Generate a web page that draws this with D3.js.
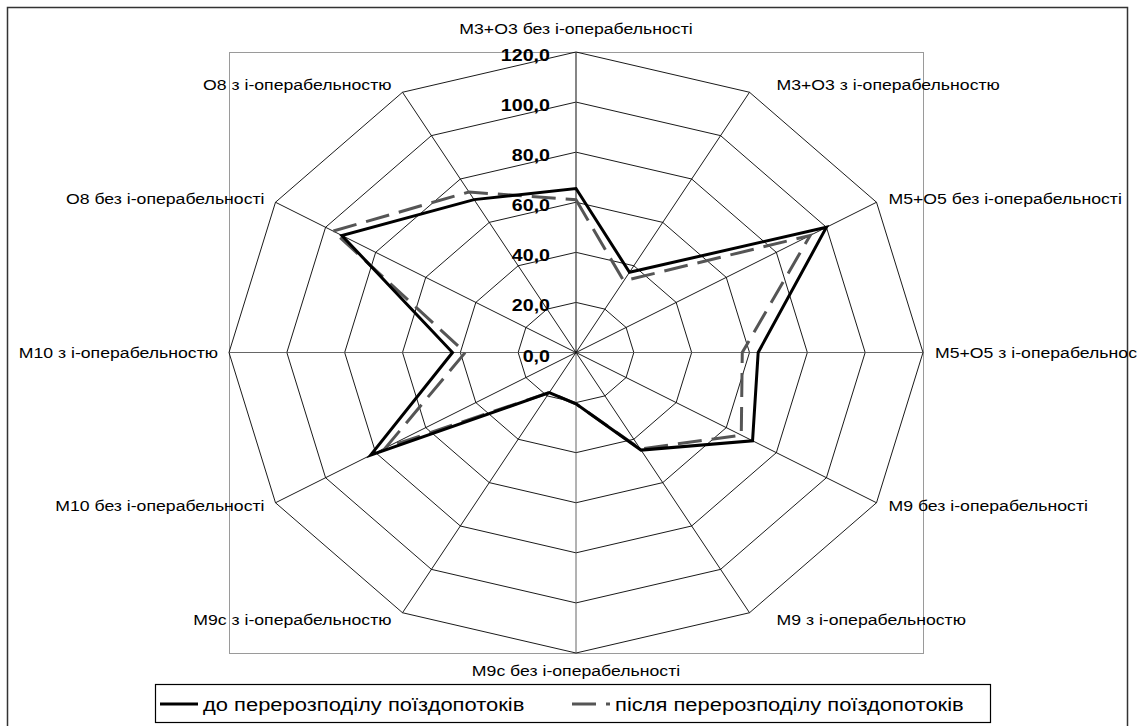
<!DOCTYPE html>
<html>
<head>
<meta charset="utf-8">
<script src="https://cdn.jsdelivr.net/npm/d3@7"></script>
<style>
  html, body { margin: 0; padding: 0; background: #fff; }
  svg { display: block; font-family: "Liberation Sans", Arial, sans-serif; }
</style>
</head>
<body>
<svg id="chart" width="1137" height="726"></svg>
<script>
// Axis categories, clockwise from the top
const categories = [
  "M3+O3 без і-операбельності",
  "M3+O3 з і-операбельностю",
  "M5+O5 без і-операбельності",
  "M5+O5 з і-операбельностю",
  "M9 без і-операбельності",
  "M9 з і-операбельностю",
  "M9c без і-операбельності",
  "M9c з і-операбельностю",
  "M10 без і-операбельності",
  "M10 з і-операбельностю",
  "O8 без і-операбельності",
  "O8 з і-операбельностю"
];
const seriesNames = ["до перерозподілу поїздопотоків", "після перерозподілу поїздопотоків"];
const beforeValues = [65.5, 37, 100, 63, 70.5, 45, 20.5, 18.5, 82, 42.7, 93.5, 70.5];
const afterValues  = [61, 33, 93.5, 57.5, 66, 44.5, 20.5, 18.5, 76, 38.3, 97, 74];
const tickValues = [0, 20, 40, 60, 80, 100, 120];

const svg = d3.select("#chart");
const fmt = v => d3.format(".1f")(v).replace(".", ",");

// Plot box (the radar is drawn as an ellipse filling it)
const plot = { x0: 229, y0: 52, x1: 923, y1: 653 };
const cx = (plot.x0 + plot.x1) / 2, cy = (plot.y0 + plot.y1) / 2;
const rx = (plot.x1 - plot.x0) / 2, ry = (plot.y1 - plot.y0) / 2;
const stretch = rx / ry;
const dashPattern = "24,10";

const r = d3.scaleLinear().domain([0, 120]).range([0, 1]);
const angle = d3.scaleLinear().domain([0, categories.length]).range([0, 2 * Math.PI]);
const pt = (i, v) => [cx + Math.sin(angle(i)) * rx * r(v), cy - Math.cos(angle(i)) * ry * r(v)];

// Chart outer border
svg.append("rect").attr("x", 7.5).attr("y", 7.5).attr("width", 1120).attr("height", 730)
  .attr("fill", "#fff").attr("stroke", "#333").attr("stroke-width", 1.5);

// Plot area border
svg.append("rect").attr("x", plot.x0 + 0.5).attr("y", plot.y0 + 0.5)
  .attr("width", plot.x1 - plot.x0).attr("height", plot.y1 - plot.y0)
  .attr("fill", "none").attr("stroke", "#9a9a9a").attr("stroke-width", 1);

const grid = svg.append("g");
const idx = d3.range(categories.length);

// Concentric polygons
tickValues.filter(t => t > 0).forEach(t => {
  grid.append("path")
    .attr("d", d3.line()(idx.map(i => pt(i, t))) + "Z")
    .attr("fill", "none").attr("stroke", "#000").attr("stroke-width", 0.9);
});

// Spokes
idx.forEach(i => {
  const [x, y] = pt(i, 120);
  grid.append("line").attr("x1", cx).attr("y1", cy).attr("x2", x).attr("y2", y)
    .attr("stroke", i === 0 ? "#444" : (i % 3 === 0 ? "#555" : "#000"))
    .attr("stroke-width", i === 0 ? 1.3 : 0.9);
});

// Series lines
const lineGen = d3.line();
svg.append("path")
  .attr("d", lineGen(idx.map(i => pt(i, afterValues[i]))) + "Z")
  .attr("fill", "none").attr("stroke", "#555").attr("stroke-width", 3)
  .attr("stroke-dasharray", dashPattern).attr("stroke-linejoin", "miter");
svg.append("path")
  .attr("d", lineGen(idx.map(i => pt(i, beforeValues[i]))) + "Z")
  .attr("fill", "none").attr("stroke", "#000").attr("stroke-width", 3)
  .attr("stroke-linejoin", "miter");

// Value axis tick labels (stretched horizontally like the plot)
tickValues.forEach(t => {
  const y = cy - ry * r(t);
  svg.append("text")
    .attr("transform", `translate(${cx - 26},${y + 9}) scale(${stretch},1)`)
    .attr("text-anchor", "end")
    .attr("font-size", 17).attr("font-weight", "bold")
    .text(fmt(t));
});

// Category labels
idx.forEach(i => {
  const a = angle(i);
  const s = Math.sin(a), c = Math.cos(a);
  const [vx, vy] = pt(i, 120);
  let anchor, x, y;
  if (Math.abs(s) < 0.01) {
    anchor = "middle"; x = vx; y = c > 0 ? vy - 18 : vy + 23;
  } else {
    anchor = s > 0 ? "start" : "end";
    const off = s > 0 ? (Math.abs(c) > 0.8 ? 27 : 12) : 11;
    x = vx + Math.sign(s) * off;
    y = vy + 5 - c * (Math.abs(c) > 0.8 ? 8 : 6);
  }
  svg.append("text")
    .attr("transform", `translate(${x},${y}) scale(${stretch * 1.02},1)`)
    .attr("text-anchor", anchor)
    .attr("font-size", 15)
    .text(categories[i]);
});

// Legend
const legend = svg.append("g");
legend.append("rect").attr("x", 155.5).attr("y", 684.5).attr("width", 835).attr("height", 38)
  .attr("fill", "#fff").attr("stroke", "#000").attr("stroke-width", 1.2);
const legendItems = [
  { x: 160, color: "#000", dash: null },
  { x: 572, color: "#555", dash: dashPattern }
];
legendItems.forEach((d, k) => {
  legend.append("line").attr("x1", d.x).attr("x2", d.x + 38).attr("y1", 704).attr("y2", 704)
    .attr("stroke", d.color).attr("stroke-width", 3).attr("stroke-dasharray", d.dash);
  legend.append("text")
    .attr("transform", `translate(${d.x + 43},${711}) scale(${stretch},1)`)
    .attr("font-size", 19)
    .text(seriesNames[k]);
});
</script>
</body>
</html>
